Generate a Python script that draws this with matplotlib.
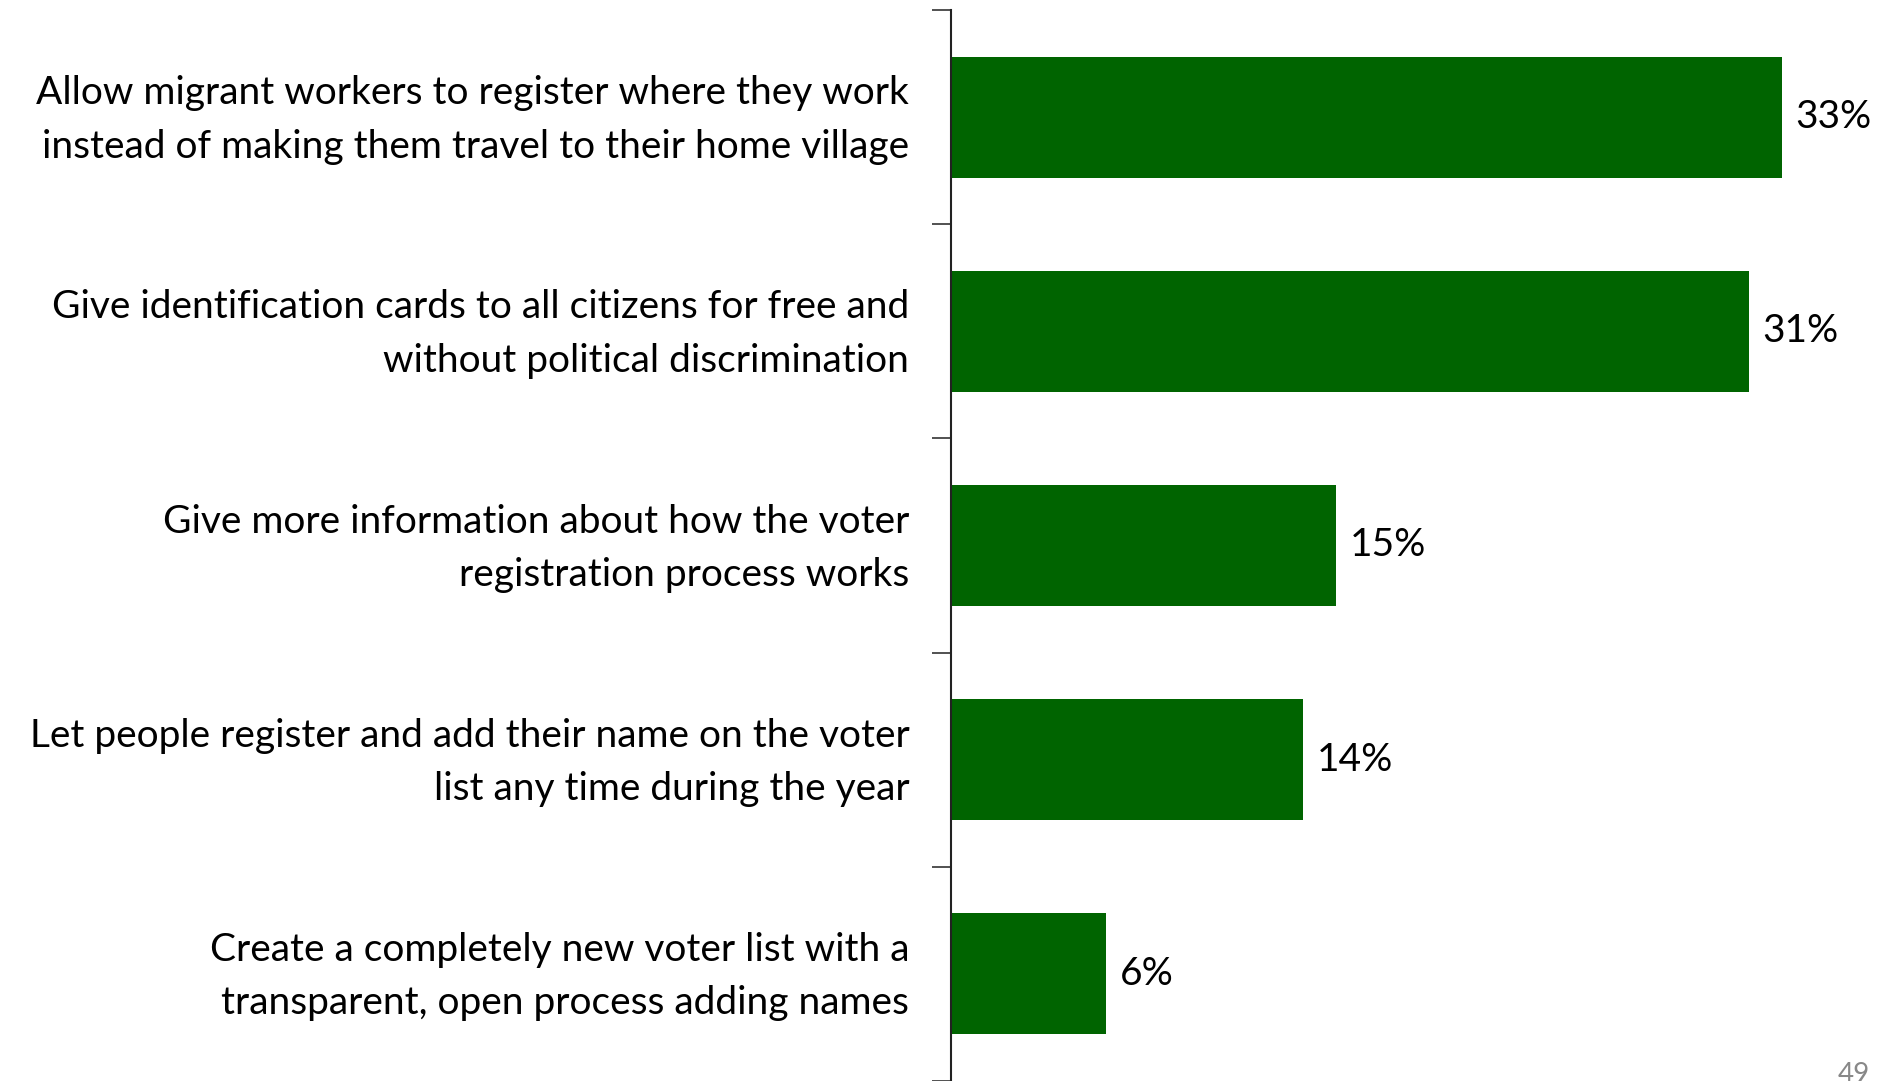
import matplotlib.pyplot as plt

# Survey answers, top to bottom as shown in the chart
categories = [
    'Allow migrant workers to register where they work\ninstead of making them travel to their home village',
    'Give identification cards to all citizens for free and\nwithout political discrimination',
    'Give more information about how the voter\nregistration process works',
    'Let people register and add their name on the voter\nlist any time during the year',
    'Create a completely new voter list with a\ntransparent, open process adding names',
]
shares = [32.6, 31.3, 15.1, 13.8, 6.1]
page_number = '49'

BAR_COLOR = '#006400'
FONT = ['Lato', 'DejaVu Sans']


def plot_chart():
    plt.rcParams['font.family'] = FONT

    fig = plt.figure(figsize=(18.81, 10.81), dpi=100)
    ax = fig.add_axes([951 / 1881, 0.0, (1881 - 951) / 1881, (1081 - 10) / 1081])

    n = len(categories)
    ypos = list(range(n))
    ax.barh(ypos, shares, height=0.565, color=BAR_COLOR, zorder=2)

    ax.set_ylim(n - 0.5, -0.5)
    ax.set_xlim(0, 36.5)

    # boundary ticks between the categories
    ax.set_yticks([y - 0.5 for y in range(n + 1)])
    ax.set_yticklabels([])
    ax.tick_params(axis='y', which='major', length=14, width=1.2, color='#333333')
    ax.set_xticks([])

    # category labels, right aligned left of the axis
    for y, label in zip(ypos, categories):
        ax.annotate(label, xy=(0, y), xytext=(-30, -2),
                    textcoords='offset points', va='center', ha='right',
                    fontsize=28, linespacing=1.6, color='black',
                    annotation_clip=False)

    for side in ['top', 'right', 'bottom']:
        ax.spines[side].set_visible(False)
    ax.spines['left'].set_linewidth(1.5)
    ax.spines['left'].set_color('#222222')

    for y, v in zip(ypos, shares):
        ax.annotate('{:.0f}%'.format(v), xy=(v, y), xytext=(10, 0),
                    textcoords='offset points', va='center', ha='left',
                    fontsize=28, color='black')

    fig.text(1870 / 1881, 6 / 1081, page_number,
             ha='right', va='center', fontsize=20, color='#888888')

    fig.savefig('out.png', dpi=100)


if __name__ == '__main__':
    plot_chart()
